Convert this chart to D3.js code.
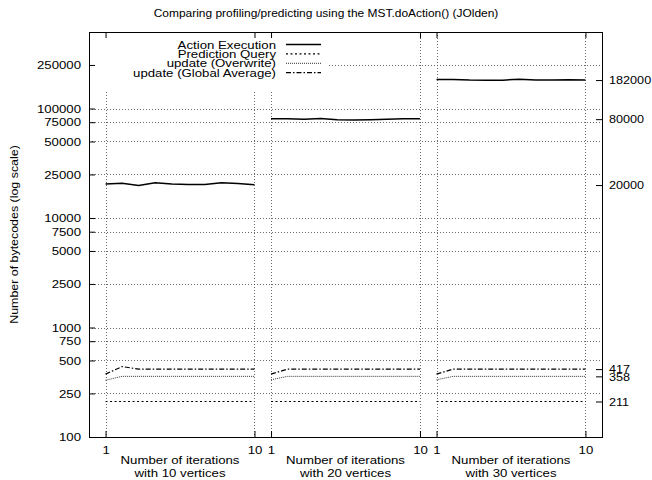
<!DOCTYPE html>
<html>
<head>
<meta charset="utf-8">
<script src="https://cdn.jsdelivr.net/npm/d3@7"></script>
<style>
  body { margin: 0; background: #fff; }
  svg { font-family: "Liberation Sans", Arial, Helvetica, sans-serif; }
  text { fill: #000; }
</style>
</head>
<body>
<script>
// data
const panels = ["with 10 vertices", "with 20 vertices", "with 30 vertices"];
const iterations = [1, 2, 3, 4, 5, 6, 7, 8, 9, 10];
const actionExecution = [
  [20500, 20800, 19800, 21000, 20500, 20200, 20200, 21000, 20700, 20100],
  [80500, 80500, 80000, 81000, 79000, 78500, 79000, 80000, 80500, 80500],
  [184000, 184000, 182000, 181500, 181500, 185500, 182500, 182500, 183000, 182000]
];
const predictionQuery = [
  [211, 211, 211, 211, 211, 211, 211, 211, 211, 211],
  [211, 211, 211, 211, 211, 211, 211, 211, 211, 211],
  [211, 211, 211, 211, 211, 211, 211, 211, 211, 211]
];
const updateOverwrite = [
  [330, 358, 358, 358, 358, 358, 358, 358, 358, 358],
  [333, 358, 358, 358, 358, 358, 358, 358, 358, 358],
  [333, 358, 358, 358, 358, 358, 358, 358, 358, 358]
];
const updateGlobalAverage = [
  [375, 440, 417, 417, 417, 417, 417, 417, 417, 417],
  [375, 417, 417, 417, 417, 417, 417, 417, 417, 417],
  [375, 417, 417, 417, 417, 417, 417, 417, 417, 417]
];
const yTicks = [100, 250, 500, 750, 1000, 2500, 5000, 7500, 10000, 25000, 50000, 75000, 100000, 250000];
const y2Ticks = [211, 358, 417, 20000, 80000, 182000];

const series = [
  {name: "Action Execution", values: actionExecution, dash: null, width: 1.5, color: "#000"},
  {name: "Prediction Query", values: predictionQuery, dash: "2,2.5", width: 1.2, color: "#000"},
  {name: "update (Overwrite)", values: updateOverwrite, dash: "1,1", width: 1, color: "#333"},
  {name: "update (Global Average)", values: updateGlobalAverage, dash: "5,2,1.5,2", width: 1.2, color: "#000"}
];

const width = 652, height = 480;
const plotL = 89, plotR = 602, plotT = 32, plotB = 437;
const fontSize = 11.5;
const sx = 1.15;  // the original text is a bit wider than it is tall

const svg = d3.select("body").append("svg")
  .attr("width", width)
  .attr("height", height)
  .attr("font-size", fontSize);

function label(x, y, str, anchor, s) {
  return svg.append("text")
    .attr("transform", `translate(${x},${y}) scale(${s || sx},1)`)
    .attr("text-anchor", anchor || "middle")
    .text(str);
}

// x is continuous: panel p, iteration i -> p*10 + i
const x = d3.scaleLinear().domain([0, 31]).range([plotL, plotR]);
const y = d3.scaleLog().domain([100, 500000]).range([plotB, plotT]);

const xTicks = [];
panels.forEach((p, k) => { xTicks.push(k * 10 + 1, k * 10 + 10); });

// grid
const grid = svg.append("g")
  .attr("stroke", "#444")
  .attr("stroke-width", 0.8)
  .attr("stroke-dasharray", "1,2");
grid.selectAll(".hg")
  .data(yTicks.filter(d => d > 100))
  .enter().append("line")
  .attr("x1", plotL).attr("x2", plotR)
  .attr("y1", d => Math.round(y(d)) + 0.5)
  .attr("y2", d => Math.round(y(d)) + 0.5);
grid.selectAll(".vg")
  .data(xTicks)
  .enter().append("line")
  .attr("y1", plotT).attr("y2", plotB)
  .attr("x1", d => Math.round(x(d)) + 0.5)
  .attr("x2", d => Math.round(x(d)) + 0.5);

// lines
const line = d3.line()
  .x(d => x(d.x))
  .y(d => y(d.v));

series.forEach(s => {
  s.values.forEach((vals, k) => {
    const pts = iterations.map((it, j) => ({x: k * 10 + it, v: vals[j]}));
    svg.append("path")
      .datum(pts)
      .attr("fill", "none")
      .attr("stroke", s.color)
      .attr("stroke-width", s.width)
      .attr("stroke-dasharray", s.dash)
      .attr("d", line);
  });
});

// legend (opaque box)
svg.append("rect")
  .attr("x", plotL + 1).attr("y", plotT + 1)
  .attr("width", 328 - plotL).attr("height", 58)
  .attr("fill", "#fff");

series.forEach((s, k) => {
  const ly = 44.5 + k * 9.4;
  label(276, ly + 4, s.name, "end");
  svg.append("line")
    .attr("x1", 286).attr("x2", 321)
    .attr("y1", ly).attr("y2", ly)
    .attr("stroke", s.color)
    .attr("stroke-width", s.width)
    .attr("stroke-dasharray", s.dash);
});

// axes
const fmt = d3.format("d");
function stretch(s) {
  return g => {
    g.select(".domain").remove();
    g.selectAll(".tick text")
      .attr("font-size", fontSize)
      .attr("font-family", "'Liberation Sans', Arial, Helvetica, sans-serif")
      .each(function() {
        const t = d3.select(this);
        t.attr("x", (+t.attr("x") || 0) / s).attr("transform", `scale(${s},1)`);
      });
  };
}

svg.append("g")
  .attr("transform", `translate(${plotL},0)`)
  .call(d3.axisLeft(y).tickValues(yTicks).tickFormat(fmt).tickSizeInner(-6).tickSizeOuter(0).tickPadding(8))
  .call(stretch(sx));

svg.append("g")
  .attr("transform", `translate(${plotR},0)`)
  .call(d3.axisRight(y).tickValues(y2Ticks).tickFormat(fmt).tickSizeInner(-6).tickSizeOuter(0).tickPadding(7))
  .call(stretch(1.1));

svg.append("g")
  .attr("transform", `translate(0,${plotB})`)
  .call(d3.axisBottom(x).tickValues(xTicks).tickFormat(d => ((d - 1) % 10) + 1).tickSizeInner(-6).tickSizeOuter(0).tickPadding(9))
  .call(stretch(sx));

svg.append("g")
  .attr("transform", `translate(0,${plotT})`)
  .call(d3.axisTop(x).tickValues(xTicks).tickFormat("").tickSizeInner(-6).tickSizeOuter(0))
  .call(g => g.select(".domain").remove());

// frame
svg.append("rect")
  .attr("x", plotL + 0.5).attr("y", plotT + 0.5)
  .attr("width", plotR - plotL).attr("height", plotB - plotT)
  .attr("fill", "none")
  .attr("stroke", "#000")
  .attr("stroke-width", 1);

// panel labels
panels.forEach((p, k) => {
  const cx = x(k * 10 + 5.5);
  label(cx, 464, "Number of iterations");
  label(cx, 477, p);
});

// title and y label
label(326, 17, "Comparing profiling/predicting using the MST.doAction() (JOlden)", "middle", 1.04);

svg.append("text")
  .attr("transform", `translate(18,${(plotT + plotB) / 2}) rotate(-90) scale(1.08,1)`)
  .attr("text-anchor", "middle")
  .text("Number of bytecodes (log scale)");
</script>
</body>
</html>
